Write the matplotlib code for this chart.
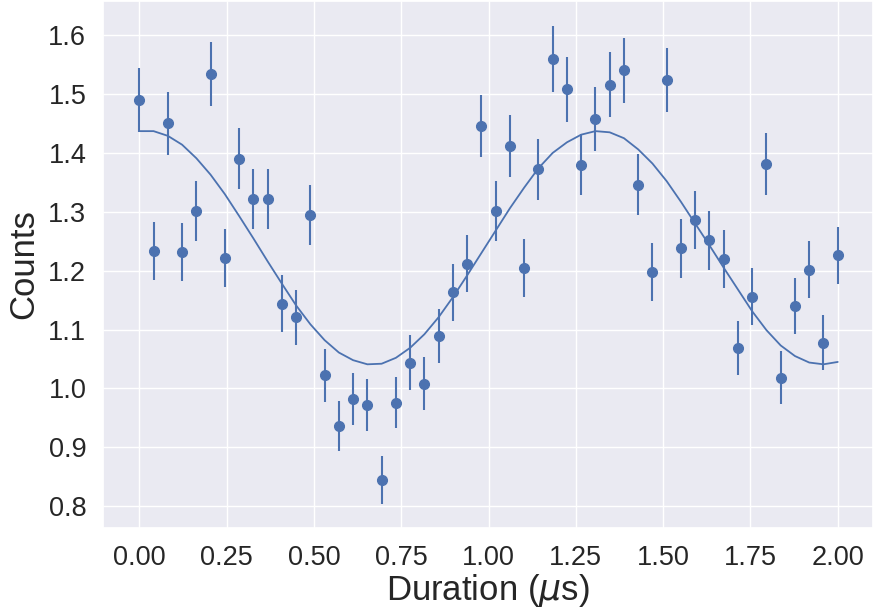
import matplotlib
matplotlib.use("Agg")
import matplotlib.pyplot as plt
import seaborn as sns

# durations in microseconds
duration = [0.0, 0.0408, 0.0816, 0.1224, 0.1633, 0.2041, 0.2449, 0.2857, 0.3265, 0.3673,
            0.4082, 0.4490, 0.4898, 0.5306, 0.5714, 0.6122, 0.6531, 0.6939, 0.7347, 0.7755,
            0.8163, 0.8571, 0.8980, 0.9388, 0.9796, 1.0204, 1.0612, 1.1020, 1.1429, 1.1837,
            1.2245, 1.2653, 1.3061, 1.3469, 1.3878, 1.4286, 1.4694, 1.5102, 1.5510, 1.5918,
            1.6327, 1.6735, 1.7143, 1.7551, 1.7959, 1.8367, 1.8776, 1.9184, 1.9592, 2.0]

# measured counts
counts = [1.490, 1.234, 1.450, 1.232, 1.302, 1.534, 1.222, 1.390, 1.322, 1.322,
          1.144, 1.121, 1.294, 1.022, 0.936, 0.982, 0.972, 0.844, 0.976, 1.044,
          1.008, 1.089, 1.163, 1.212, 1.446, 1.302, 1.412, 1.204, 1.372, 1.560,
          1.508, 1.380, 1.458, 1.516, 1.540, 1.346, 1.198, 1.524, 1.238, 1.286,
          1.252, 1.220, 1.068, 1.156, 1.381, 1.018, 1.140, 1.202, 1.078, 1.226]

# error bars
errors = [0.054, 0.049, 0.054, 0.049, 0.051, 0.055, 0.049, 0.052, 0.051, 0.051,
          0.048, 0.047, 0.051, 0.045, 0.043, 0.044, 0.044, 0.041, 0.044, 0.046,
          0.045, 0.046, 0.048, 0.049, 0.053, 0.051, 0.053, 0.049, 0.052, 0.056,
          0.055, 0.052, 0.054, 0.055, 0.055, 0.052, 0.049, 0.055, 0.050, 0.050,
          0.050, 0.049, 0.046, 0.048, 0.052, 0.045, 0.048, 0.049, 0.046, 0.049]

# fitted curve on the same grid
fit = [1.437, 1.437, 1.429, 1.414, 1.391, 1.363, 1.330, 1.293, 1.255, 1.216,
       1.178, 1.141, 1.109, 1.082, 1.061, 1.048, 1.041, 1.042, 1.052, 1.069,
       1.092, 1.121, 1.155, 1.192, 1.230, 1.268, 1.306, 1.341, 1.374, 1.400,
       1.418, 1.431, 1.437, 1.435, 1.425, 1.406, 1.382, 1.352, 1.317, 1.280,
       1.243, 1.205, 1.168, 1.131, 1.099, 1.073, 1.055, 1.044, 1.041, 1.045]

sns.set_theme(style="darkgrid")
plt.rcParams['font.family'] = ['Liberation Sans', 'DejaVu Sans']

color = "#4C72B0"

fig = plt.figure(figsize=(8.73, 6.11), dpi=100)
ax = fig.add_axes([103 / 873, 83 / 611, 770 / 873, 527 / 611])

ax.errorbar(duration, counts, yerr=errors, fmt='o', color=color,
            markersize=7, elinewidth=1.5, capsize=0)
ax.plot(duration, fit, color=color, linewidth=1.3)

ax.set_xlim(-0.104, 2.101)
ax.set_ylim(0.763, 1.658)
ax.set_xticks([0.0, 0.25, 0.5, 0.75, 1.0, 1.25, 1.5, 1.75, 2.0])
ax.set_yticks([0.8, 0.9, 1.0, 1.1, 1.2, 1.3, 1.4, 1.5, 1.6])
ax.xaxis.set_major_formatter(matplotlib.ticker.FormatStrFormatter('%.2f'))
ax.yaxis.set_major_formatter(matplotlib.ticker.FormatStrFormatter('%.1f'))
ax.tick_params(labelsize=19.5, pad=6, colors='#262626')
ax.set_xlabel(r'Duration ($\mu$s)', fontsize=25, color='#262626', labelpad=1)
ax.set_ylabel('Counts', fontsize=25, color='#262626', labelpad=6)

plt.savefig("out.png", dpi=100)
plt.close()
